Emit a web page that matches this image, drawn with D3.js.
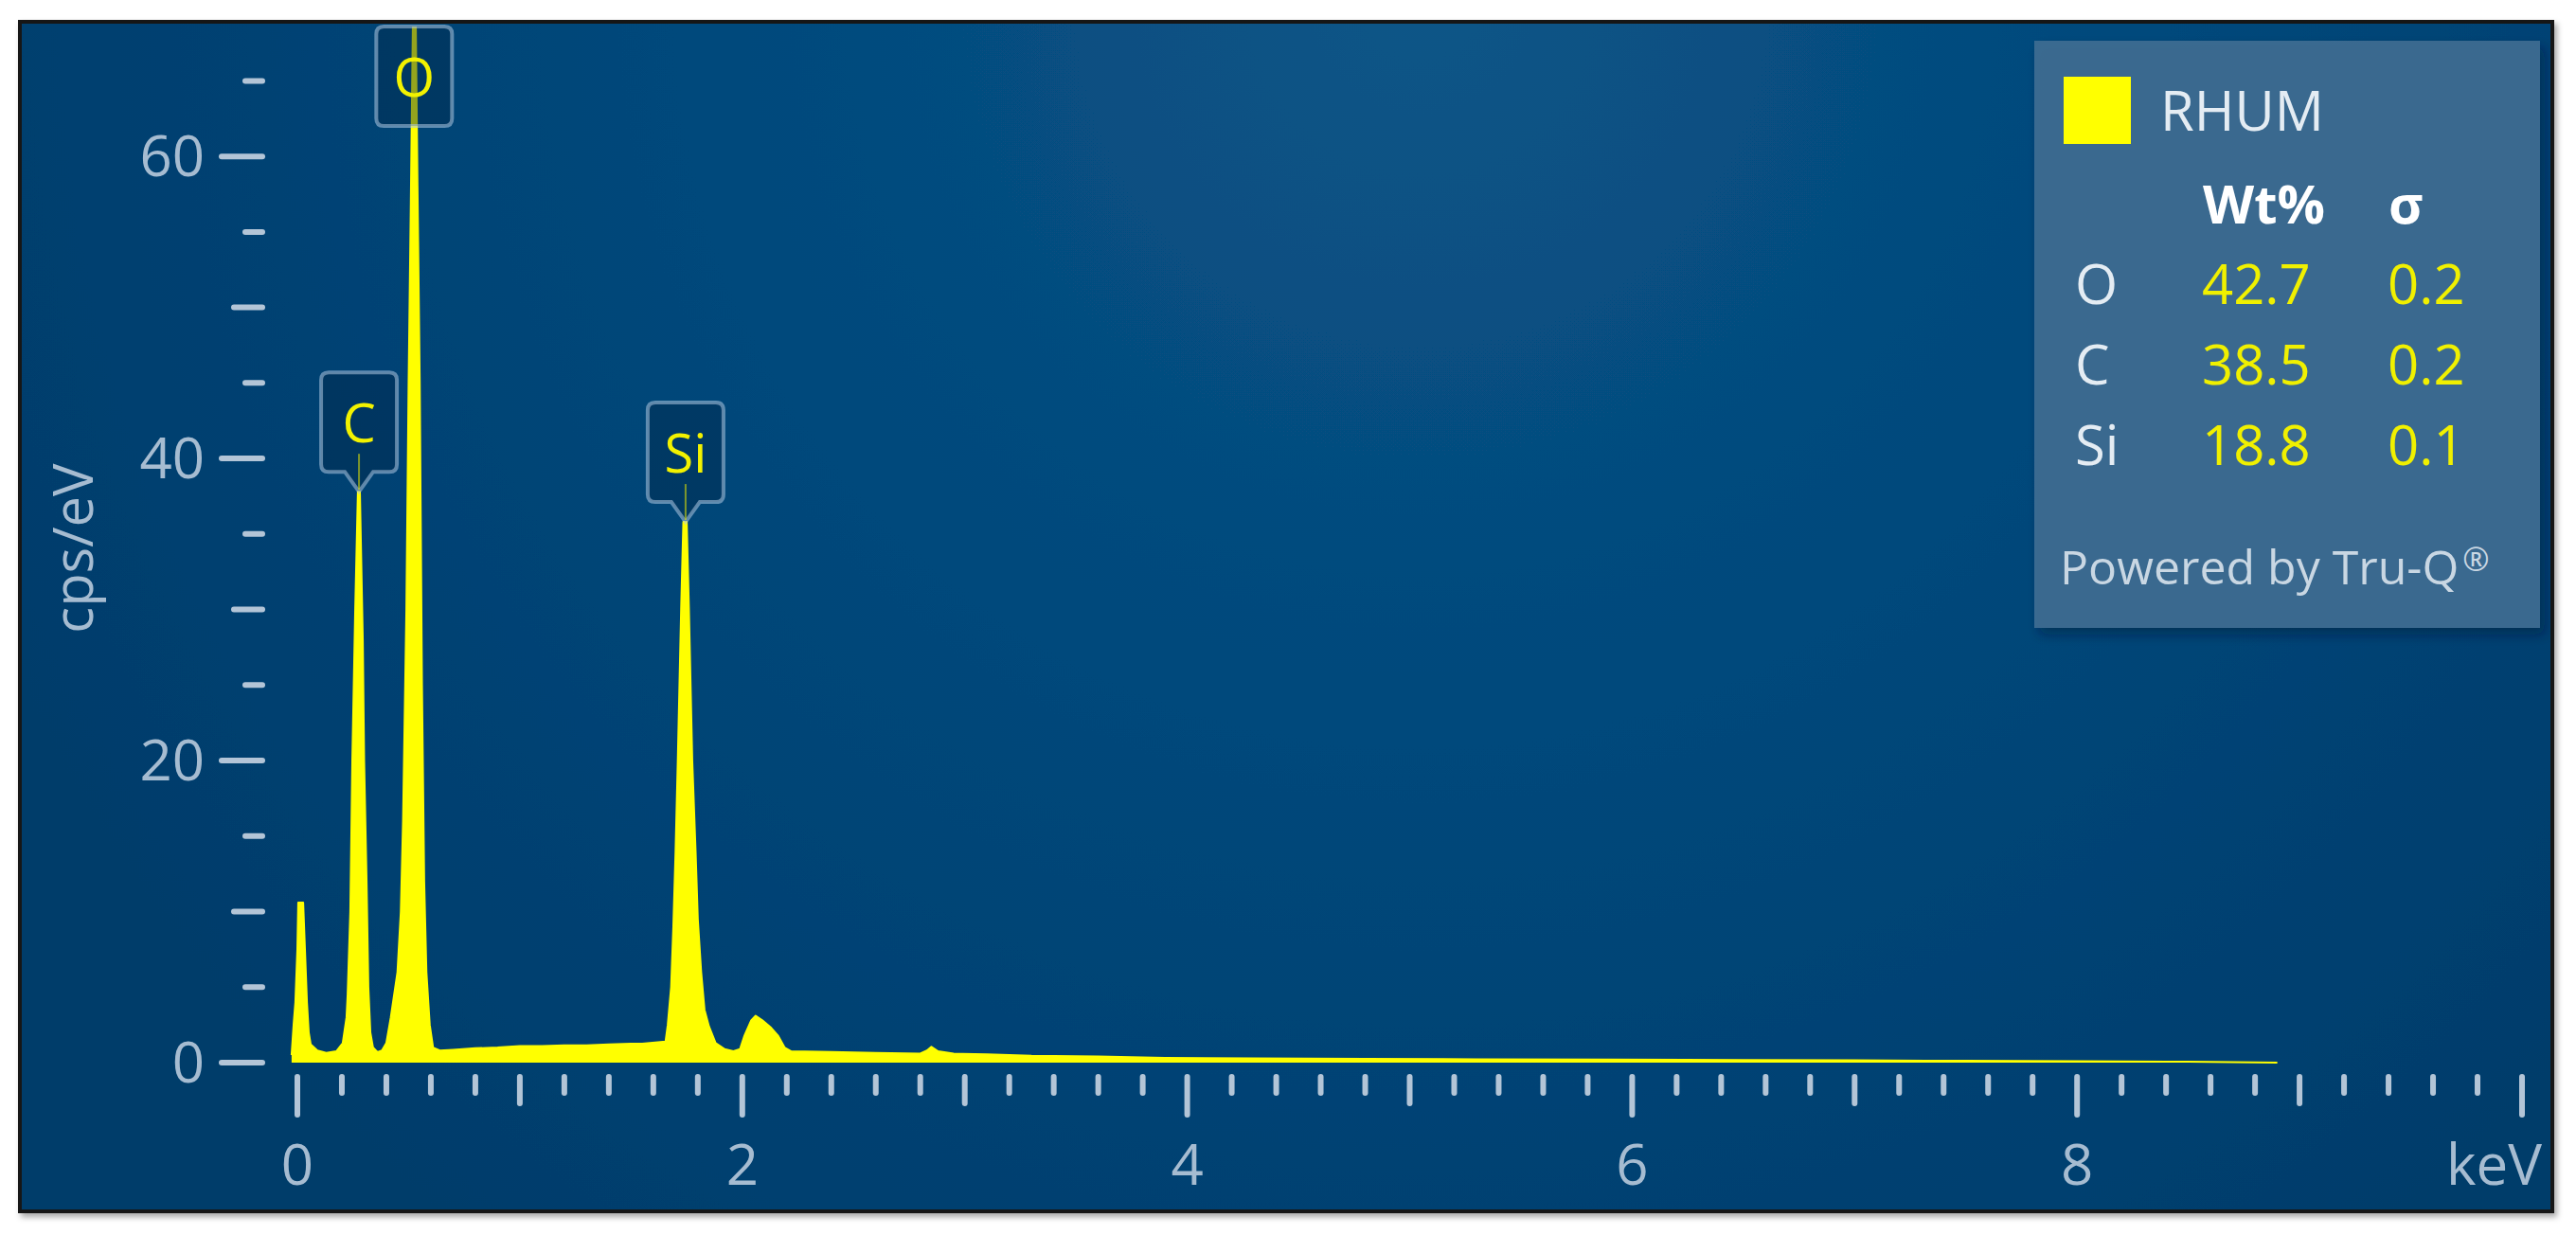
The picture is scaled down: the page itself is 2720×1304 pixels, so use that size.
<!DOCTYPE html>
<html>
<head>
<meta charset="utf-8">
<script src="https://cdn.jsdelivr.net/npm/d3@7/dist/d3.min.js"></script>
<style>
  html, body { margin: 0; padding: 0; background: #ffffff; }
  svg { display: block; }
  text { font-family: "Open Sans", "Noto Sans", sans-serif; }
</style>
</head>
<body>
<svg id="chart" width="2720" height="1304"></svg>
<script>
// ---------- DATA ----------
// Spectrum: energy (keV) and intensity (cps/eV)
const energy = [
  -0.026, -0.017, -0.009, 0.0, 0.004, 0.026, 0.034, 0.043, 0.051, 0.06, 0.09, 0.13, 0.175, 0.204, 0.221,
  0.226, 0.238, 0.247, 0.26, 0.272, 0.281, 0.294, 0.30, 0.311, 0.319, 0.328, 0.34, 0.36, 0.38, 0.40, 0.42,
  0.43, 0.45, 0.465, 0.475, 0.49, 0.50, 0.51, 0.52, 0.53, 0.54, 0.55, 0.56, 0.57, 0.58, 0.595, 0.61, 0.64,
  0.7, 0.8, 0.9, 1.0, 1.1, 1.2, 1.3, 1.4, 1.5, 1.55, 1.62,
  1.655, 1.665, 1.68, 1.69, 1.70, 1.71, 1.725, 1.735, 1.75, 1.76, 1.775, 1.79, 1.80, 1.815, 1.83, 1.85, 1.88, 1.92, 1.96,
  1.99, 2.01, 2.04, 2.06, 2.09, 2.13, 2.16, 2.19, 2.22,
  2.4, 2.6, 2.8, 2.83, 2.85, 2.88, 2.95, 3.1, 3.3, 3.6, 3.9, 4.3, 4.8, 5.3, 5.9, 6.5, 7.0, 7.5, 8.0, 8.5, 8.9
];
const counts = [
  0.5, 2.5, 4.0, 7.5, 10.6, 10.6, 7.5, 4.0, 2.0, 1.2, 0.8, 0.65, 0.75, 1.3, 3.0,
  4.5, 10, 20, 30, 37.8, 37.8, 28, 20, 12, 5, 2, 1.0, 0.7, 0.8, 1.3, 3.0,
  4.0, 6.0, 10, 16, 30, 45, 57, 70, 72, 58, 45, 25, 12, 6, 2.5, 1.0, 0.8,
  0.85, 0.95, 1.0, 1.1, 1.1, 1.15, 1.15, 1.2, 1.25, 1.25, 1.35,
  1.4, 2.5, 5, 9, 14, 20, 30, 35.8, 35.8, 30, 20, 14, 9.5, 6, 3.5, 2.4, 1.3, 0.9, 0.75,
  0.9, 1.8, 2.8, 3.1, 2.8, 2.3, 1.8, 1.0, 0.75,
  0.7, 0.65, 0.6, 0.8, 1.05, 0.75, 0.6, 0.55, 0.45, 0.4, 0.32, 0.28, 0.25, 0.22, 0.2, 0.17, 0.15, 0.12, 0.1, 0.06, 0.0
];

// Element peak labels
const peakLabels = ["C", "O", "Si"];
const peakEnergy = [0.277, 0.525, 1.745];
const peakTop = [37.8, 72, 35.8];

// Axis ticks
const xTickLabels = [0, 2, 4, 6, 8];
const yTickLabels = [0, 20, 40, 60];
const xUnit = "keV";
const yUnit = "cps/eV";

// Legend / quantification table
const seriesName = "RHUM";
const tableHeader = ["Wt%", "σ"];
const elements = ["O", "C", "Si"];
const wtPercent = ["42.7", "38.5", "18.8"];
const sigma = ["0.2", "0.2", "0.1"];
const footer = "Powered by Tru-Q";

// ---------- LAYOUT ----------
const svg = d3.select("#chart");
const x = d3.scaleLinear().domain([0, 10]).range([314, 2663]);
const y = d3.scaleLinear().domain([0, 68.6]).range([1122, 28]);

const tickColor = "#b3c5d7";
const labelColor = "#a6bcd1";

const defs = svg.append("defs");
const rg = defs.append("radialGradient").attr("id", "bg")
  .attr("gradientUnits", "userSpaceOnUse")
  .attr("cx", 1500).attr("cy", 0).attr("r", 1700);
rg.append("stop").attr("offset", "0").attr("stop-color", "#0a5587");
rg.append("stop").attr("offset", "0.5").attr("stop-color", "#03477a");
rg.append("stop").attr("offset", "1").attr("stop-color", "#003c6a");

const sh = defs.append("filter").attr("id", "shadow").attr("x", "-10%").attr("y", "-10%").attr("width", "130%").attr("height", "130%");
sh.append("feDropShadow").attr("dx", 5).attr("dy", 7).attr("stdDeviation", 6)
  .attr("flood-color", "#001a33").attr("flood-opacity", 0.45);

const fsh = defs.append("filter").attr("id", "frameShadow").attr("x", "-5%").attr("y", "-5%").attr("width", "110%").attr("height", "110%");
fsh.append("feDropShadow").attr("dx", 3).attr("dy", 4).attr("stdDeviation", 3)
  .attr("flood-color", "#000").attr("flood-opacity", 0.35);

defs.append("clipPath").attr("id", "plotClip")
  .append("rect").attr("x", 24).attr("y", y(68.6)).attr("width", 2670).attr("height", y(0) - y(68.6) + 2);

// Frame + background
svg.append("rect").attr("x", 21).attr("y", 23).attr("width", 2674).attr("height", 1256)
  .attr("fill", "url(#bg)").attr("stroke", "#151515").attr("stroke-width", 4)
  .attr("filter", "url(#frameShadow)");

// ---------- SPECTRUM ----------
const pts = energy.map((e, i) => [e, counts[i]]);
const area = d3.area()
  .x(d => x(d[0]))
  .y0(y(0))
  .y1(d => y(d[1]))
  .curve(d3.curveLinear);
const line = d3.line().x(d => x(d[0])).y(d => y(d[1])).curve(d3.curveLinear);

const plot = svg.append("g").attr("clip-path", "url(#plotClip)");
plot.append("path").datum(pts).attr("d", area).attr("fill", "#ffff00");
plot.append("path").datum(pts).attr("d", line).attr("fill", "none")
  .attr("stroke", "#ffff00").attr("stroke-width", 2).attr("stroke-linejoin", "round");

// ---------- Y AXIS ----------
const yTicksAll = d3.range(0, 66, 5);
const gy = svg.append("g");
gy.selectAll("line").data(yTicksAll).join("line")
  .attr("x1", v => v % 20 === 0 ? 234 : (v % 10 === 0 ? 247 : 259))
  .attr("x2", 277)
  .attr("y1", v => y(v)).attr("y2", v => y(v))
  .attr("stroke", tickColor).attr("stroke-width", 6).attr("stroke-linecap", "round");
gy.selectAll("text").data(yTickLabels).join("text")
  .attr("x", 216).attr("y", v => y(v) + 21)
  .attr("text-anchor", "end").attr("font-size", 60).attr("fill", labelColor)
  .text(v => v);
svg.append("text")
  .attr("transform", "translate(98,579) rotate(-90)")
  .attr("text-anchor", "middle").attr("font-size", 58).attr("fill", labelColor)
  .text(yUnit);

// ---------- X AXIS ----------
const xTicksAll = d3.range(0, 51).map(i => i / 5);
const gx = svg.append("g");
gx.selectAll("line").data(xTicksAll).join("line")
  .attr("x1", v => x(v)).attr("x2", v => x(v))
  .attr("y1", 1137)
  .attr("y2", (v, i) => i % 10 === 0 ? 1177 : (i % 5 === 0 ? 1165 : 1154))
  .attr("stroke", tickColor).attr("stroke-width", 6).attr("stroke-linecap", "round");
gx.selectAll("text").data(xTickLabels).join("text")
  .attr("x", v => x(v)).attr("y", 1251)
  .attr("text-anchor", "middle").attr("font-size", 60).attr("fill", labelColor)
  .text(v => v);
svg.append("text").attr("x", 2684).attr("y", 1251)
  .attr("text-anchor", "end").attr("font-size", 60).attr("fill", labelColor)
  .text(xUnit);

// ---------- PEAK LABELS ----------
const boxW = 80, boxH = 105, ptrH = 21, ptrHalf = 15, r = 8;
const plotTop = y(68.6);
const labels = peakLabels.map((name, i) => {
  const cx = x(peakEnergy[i]);
  const tipY = y(peakTop[i]);
  const clipped = tipY - boxH - ptrH < plotTop;
  const top = clipped ? plotTop : tipY - boxH - ptrH;
  return { name, cx, tipY, top, clipped };
});
function boxPath(d) {
  const l = d.cx - boxW / 2, rr = d.cx + boxW / 2, t = d.top, b = d.top + boxH;
  let p = `M${l + r},${t} L${rr - r},${t} Q${rr},${t} ${rr},${t + r} L${rr},${b - r} Q${rr},${b} ${rr - r},${b}`;
  if (!d.clipped) {
    p += ` L${d.cx + ptrHalf},${b} L${d.cx},${b + ptrH} L${d.cx - ptrHalf},${b}`;
  }
  p += ` L${l + r},${b} Q${l},${b} ${l},${b - r} L${l},${t + r} Q${l},${t} ${l + r},${t} Z`;
  return p;
}
const gl = svg.append("g");
gl.selectAll("path").data(labels).join("path")
  .attr("d", boxPath)
  .attr("fill", "rgba(0,38,72,0.42)")
  .attr("stroke", "rgba(175,200,225,0.55)").attr("stroke-width", 4);
gl.selectAll("line.marker").data(labels.filter(d => !d.clipped)).join("line")
  .attr("class", "marker")
  .attr("x1", d => d.cx).attr("x2", d => d.cx)
  .attr("y1", d => d.top + 86).attr("y2", d => d.tipY - 2)
  .attr("stroke", "#e8e800").attr("stroke-opacity", 0.55).attr("stroke-width", 2);
gl.selectAll("text").data(labels).join("text")
  .attr("x", d => d.cx).attr("y", d => d.top + 74)
  .attr("text-anchor", "middle").attr("font-size", 56).attr("fill", "#f2f200")
  .text(d => d.name);

// ---------- LEGEND ----------
const lg = svg.append("g");
lg.append("rect").attr("x", 2148).attr("y", 43).attr("width", 534).attr("height", 620)
  .attr("fill", "#3b6b91").attr("fill-opacity", 0.96).attr("filter", "url(#shadow)");
lg.append("rect").attr("x", 2179).attr("y", 81).attr("width", 71).attr("height", 71).attr("fill", "#ffff00");
lg.append("text").attr("x", 2281).attr("y", 138).attr("font-size", 58).attr("fill", "#e4ecf3").text(seriesName);
lg.append("text").attr("x", 2326).attr("y", 236).attr("font-size", 56).attr("font-weight", 700)
  .attr("fill", "#ffffff").text(tableHeader[0]);
lg.append("text").attr("x", 2522).attr("y", 236).attr("font-size", 56).attr("font-weight", 700)
  .attr("fill", "#ffffff").text(tableHeader[1]);
const rowY = i => 321 + i * 85;
lg.selectAll("text.el").data(elements).join("text").attr("class", "el")
  .attr("x", 2191).attr("y", (d, i) => rowY(i)).attr("font-size", 58).attr("fill", "#e4ecf3").text(d => d);
lg.selectAll("text.wt").data(wtPercent).join("text").attr("class", "wt")
  .attr("x", 2325).attr("y", (d, i) => rowY(i)).attr("font-size", 58).attr("fill", "#f0f000").text(d => d);
lg.selectAll("text.sg").data(sigma).join("text").attr("class", "sg")
  .attr("x", 2521).attr("y", (d, i) => rowY(i)).attr("font-size", 58).attr("fill", "#f0f000").text(d => d);
const ft = lg.append("text").attr("x", 2175).attr("y", 617).attr("font-size", 50).attr("fill", "#c9d7e3");
ft.append("tspan").text(footer);
ft.append("tspan").attr("font-size", 34).attr("dy", -14).attr("dx", 4).text("®");
</script>
</body>
</html>
